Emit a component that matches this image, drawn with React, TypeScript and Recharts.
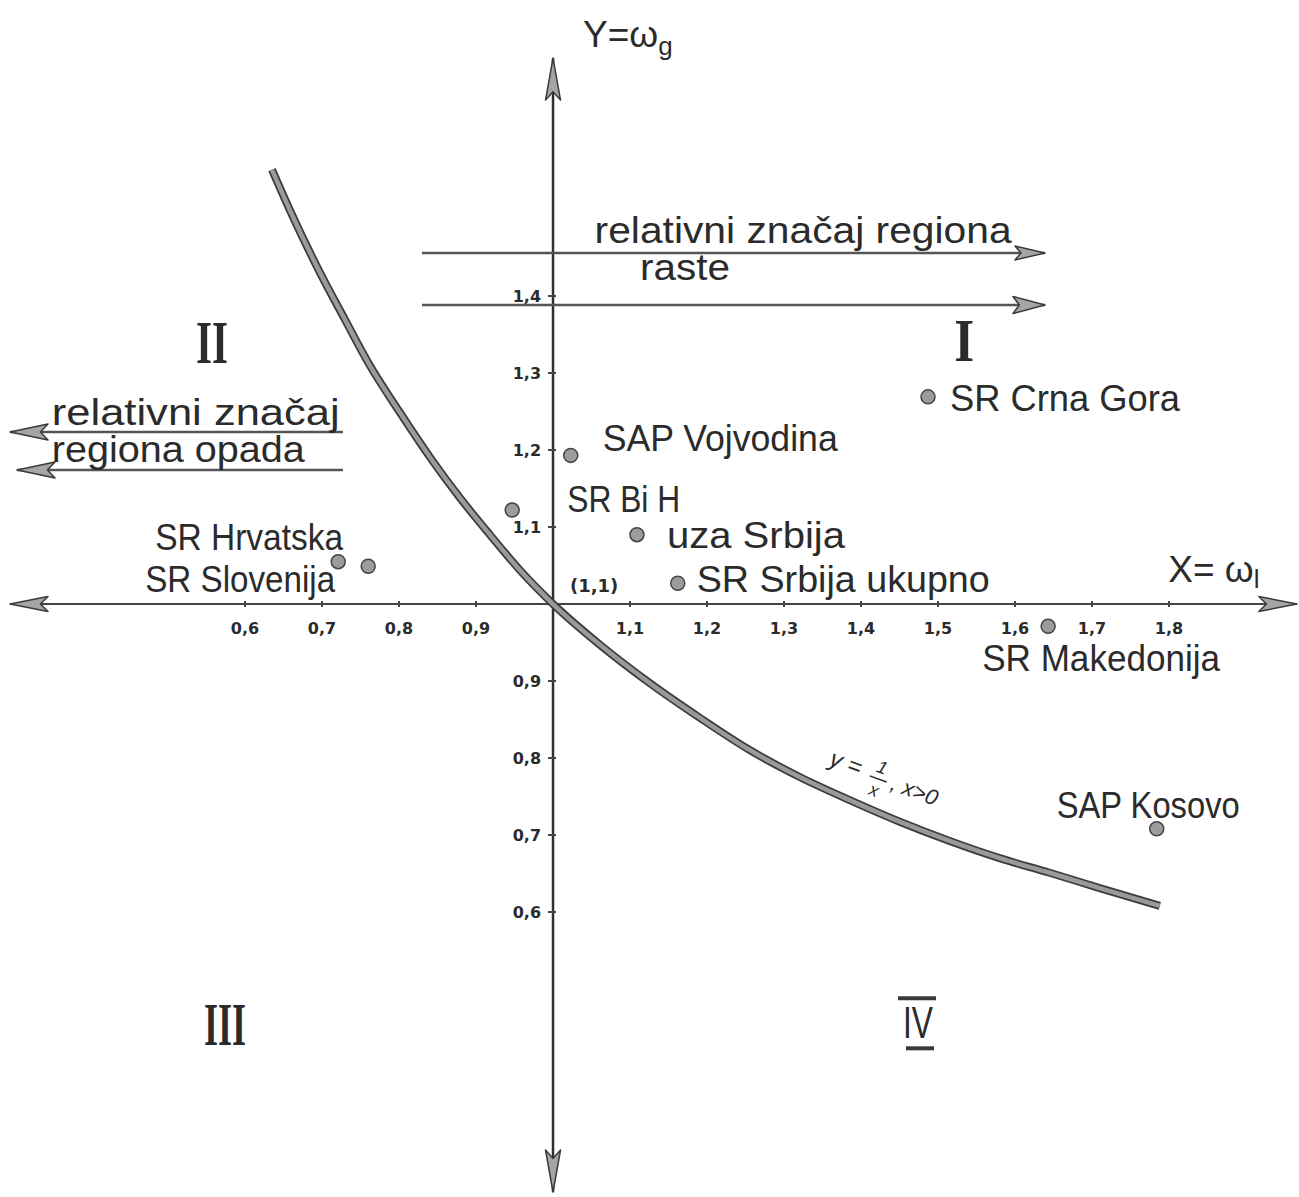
import React from "react";
import {
  ComposedChart,
  XAxis,
  YAxis,
  Line,
  Scatter,
  ReferenceLine,
  ReferenceDot,
} from "recharts";

// regions (x = omega_l, y = omega_g)
const regionNames = [
  "SR Crna Gora",
  "SAP Vojvodina",
  "SR Bi H",
  "uza Srbija",
  "SR Srbija ukupno",
  "SR Hrvatska",
  "SR Slovenija",
  "SR Makedonija",
  "SAP Kosovo",
];
const regionX = [1.487, 1.023, 0.947, 1.109, 1.162, 0.721, 0.76, 1.643, 1.784];
const regionY = [1.269, 1.193, 1.122, 1.09, 1.027, 1.055, 1.049, 0.971, 0.708];

// hand drawn y = 1/x curve
const curveX = [
  0.635, 0.658, 0.697, 0.73, 0.762, 0.801, 0.84, 0.879, 0.918, 0.957, 1.0,
  1.061, 1.126, 1.191, 1.256, 1.321, 1.386, 1.451, 1.516, 1.58, 1.645, 1.71, 1.788,
];
const curveY = [
  1.564, 1.512, 1.431, 1.369, 1.31, 1.249, 1.191, 1.138, 1.09, 1.044, 1.0,
  0.947, 0.897, 0.852, 0.81, 0.775, 0.745, 0.717, 0.692, 0.67, 0.651, 0.631, 0.608,
];

const xTickValues = [0.6, 0.7, 0.8, 0.9, 1.1, 1.2, 1.3, 1.4, 1.5, 1.6, 1.7, 1.8];
const yTickValues = [0.6, 0.7, 0.8, 0.9, 1.1, 1.2, 1.3, 1.4];

const regionData = regionNames.map((name, i) => ({ name, x: regionX[i], y: regionY[i] }));
const curveData = curveX.map((x, i) => ({ x, y: curveY[i] }));
const xTickData = xTickValues.map((v) => ({ x: v, y: 1 }));
const yTickData = yTickValues.map((v) => ({ x: 1, y: v }));

const W = 1299;
const H = 1197;
const INK = "#2b2b2b";
const LETTER = "'Liberation Sans', Arial, sans-serif";
const ROMAN = "'Liberation Serif', 'DejaVu Serif', serif";
const TICKFONT = "'DejaVu Sans', sans-serif";

// label placement next to each point: offset of text start / baseline, text width
const labelPlace: Record<string, { dx: number; dy: number; w: number; anchor?: string }> = {
  "SR Crna Gora": { dx: 22, dy: 14, w: 230 },
  "SAP Vojvodina": { dx: 32, dy: -4, w: 235 },
  "SR Bi H": { dx: 55, dy: 2, w: 113 },
  "uza Srbija": { dx: 30, dy: 13, w: 178 },
  "SR Srbija ukupno": { dx: 19, dy: 9, w: 293 },
  "SR Hrvatska": { dx: 5, dy: -12, w: 188, anchor: "end" },
  "SR Slovenija": { dx: -33, dy: 26, w: 190, anchor: "end" },
  "SR Makedonija": { dx: -66, dy: 45, w: 238 },
  "SAP Kosovo": { dx: -100, dy: -11, w: 183 },
};

const fmt = (v: number) => v.toFixed(1).replace(".", ",");

function RegionMark(p: any) {
  const { cx, cy, payload } = p;
  const pl = labelPlace[payload.name];
  return (
    <g>
      <circle cx={cx} cy={cy} r={7} fill="#9c9c9c" stroke="#444" strokeWidth={1.5} />
      <text
        x={cx + pl.dx}
        y={cy + pl.dy}
        textAnchor={pl.anchor || "start"}
        fontFamily={LETTER}
        fontSize={37}
        fill={INK}
        textLength={pl.w}
        lengthAdjust="spacingAndGlyphs"
      >
        {payload.name}
      </text>
    </g>
  );
}

function XTick(p: any) {
  const { cx, cy, payload } = p;
  return (
    <g>
      <line x1={cx} y1={cy - 3} x2={cx} y2={cy + 3} stroke="#444" strokeWidth={2} />
      <text x={cx} y={cy + 30} textAnchor="middle" fontFamily={TICKFONT} fontWeight="bold" fontSize={16} fill={INK}>
        {fmt(payload.x)}
      </text>
    </g>
  );
}

function YTick(p: any) {
  const { cx, cy, payload } = p;
  return (
    <g>
      <line x1={cx - 5} y1={cy} x2={cx + 3} y2={cy} stroke="#444" strokeWidth={2} />
      <text x={cx - 12} y={cy + 6} textAnchor="end" fontFamily={TICKFONT} fontWeight="bold" fontSize={16} fill={INK}>
        {fmt(payload.y)}
      </text>
    </g>
  );
}

function makeArrow(both: boolean, len: number, w: number, color: string, sw: number) {
  return (p: any) => {
    const { x1, y1, x2, y2 } = p;
    const d = Math.hypot(x2 - x1, y2 - y1) || 1;
    const ux = (x2 - x1) / d;
    const uy = (y2 - y1) / d;
    const head = (tx: number, ty: number, sx: number, sy: number) => {
      const bx = tx - sx * len;
      const by = ty - sy * len;
      const mx = tx - sx * len * 0.8;
      const my = ty - sy * len * 0.8;
      const nx = -sy;
      const ny = sx;
      return `${tx},${ty} ${bx + (nx * w) / 2},${by + (ny * w) / 2} ${mx},${my} ${bx - (nx * w) / 2},${by - (ny * w) / 2}`;
    };
    return (
      <g>
        <line x1={x1} y1={y1} x2={x2} y2={y2} stroke={color} strokeWidth={sw} />
        <polygon points={head(x2, y2, ux, uy)} fill="#a5a5a5" stroke="#3a3a3a" strokeWidth={1.5} strokeLinejoin="round" />
        {both && (
          <polygon points={head(x1, y1, -ux, -uy)} fill="#a5a5a5" stroke="#3a3a3a" strokeWidth={1.5} strokeLinejoin="round" />
        )}
      </g>
    );
  };
}

// free text annotations, placed in data coordinates
const textAt = (content: React.ReactNode) => (p: any) => <g transform={`translate(${p.cx},${p.cy})`}>{content}</g>;

const plain = (s: string, w: number, size = 37) => (
  <text x={0} y={0} fontFamily={LETTER} fontSize={size} fill={INK} textLength={w} lengthAdjust="spacingAndGlyphs">
    {s}
  </text>
);

const roman = (s: string, w: number) => (
  <text x={0} y={0} textAnchor="middle" fontFamily={ROMAN} fontWeight="bold" fontSize={62} fill={INK} textLength={w} lengthAdjust="spacingAndGlyphs">
    {s}
  </text>
);

export default function App() {
  return (
    <div style={{ position: "absolute", left: 0, top: 0, width: W, height: H, background: "#fff" }}>
      <ComposedChart width={W} height={H} margin={{ top: 0, right: 0, bottom: 0, left: 0 }}>
        <XAxis type="number" dataKey="x" domain={[0.2818, 1.9688]} allowDataOverflow hide />
        <YAxis type="number" dataKey="y" domain={[0.2299, 1.7844]} allowDataOverflow hide />

        {/* axes with arrow heads */}
        <ReferenceLine
          segment={[{ x: 0.2948, y: 1 }, { x: 1.966, y: 1 }]}
          ifOverflow="visible"
          shape={makeArrow(true, 38, 15, "#444", 2)}
        />
        <ReferenceLine
          segment={[{ x: 1, y: 0.2364 }, { x: 1, y: 1.709 }]}
          ifOverflow="visible"
          shape={makeArrow(true, 42, 15, "#3a2a2a", 2.5)}
        />

        {/* direction arrows */}
        <ReferenceLine segment={[{ x: 0.8298, y: 1.4558 }, { x: 1.6389, y: 1.4558 }]} ifOverflow="visible" shape={makeArrow(false, 30, 14, "#555", 2.5)} />
        <ReferenceLine segment={[{ x: 0.8298, y: 1.3883 }, { x: 1.6389, y: 1.3883 }]} ifOverflow="visible" shape={makeArrow(false, 32, 17, "#555", 2.5)} />
        <ReferenceLine segment={[{ x: 0.7272, y: 1.2234 }, { x: 0.2948, y: 1.2234 }]} ifOverflow="visible" shape={makeArrow(false, 38, 16, "#555", 2.5)} />
        <ReferenceLine segment={[{ x: 0.7272, y: 1.174 }, { x: 0.3039, y: 1.174 }]} ifOverflow="visible" shape={makeArrow(false, 38, 16, "#555", 2.5)} />

        <Line data={curveData} dataKey="y" type="monotone" dot={false} stroke="#3c3c3c" strokeWidth={8} isAnimationActive={false} />
        <Line data={curveData} dataKey="y" type="monotone" dot={false} stroke="#9a9a9a" strokeWidth={4.5} isAnimationActive={false} />

        <Scatter data={xTickData} dataKey="y" shape={XTick} isAnimationActive={false} />
        <Scatter data={yTickData} dataKey="y" shape={YTick} isAnimationActive={false} />

        <Scatter data={regionData} dataKey="y" shape={RegionMark} isAnimationActive={false} />

        <ReferenceDot x={1.054} y={1.469} r={0} ifOverflow="visible" shape={textAt(plain("relativni značaj regiona", 417))} />
        <ReferenceDot x={1.113} y={1.421} r={0} ifOverflow="visible" shape={textAt(plain("raste", 90))} />
        <ReferenceDot x={0.349} y={1.232} r={0} ifOverflow="visible" shape={textAt(plain("relativni značaj", 288))} />
        <ReferenceDot x={0.349} y={1.184} r={0} ifOverflow="visible" shape={textAt(plain("regiona opada", 253))} />

        <ReferenceDot
          x={1.039}
          y={1.723}
          r={0}
          ifOverflow="visible"
          shape={textAt(
            <text x={0} y={0} fontFamily={LETTER} fontSize={37} fill={INK}>
              Y=ω<tspan fontSize={26} dy={8}>g</tspan>
            </text>
          )}
        />
        <ReferenceDot
          x={1.799}
          y={1.028}
          r={0}
          ifOverflow="visible"
          shape={textAt(
            <text x={0} y={0} fontFamily={LETTER} fontSize={37} fill={INK}>
              X= ω<tspan fontSize={26} dy={6}>l</tspan>
            </text>
          )}
        />
        <ReferenceDot
          x={1.022}
          y={1.016}
          r={0}
          ifOverflow="visible"
          shape={textAt(
            <text x={0} y={0} fontFamily={TICKFONT} fontWeight="bold" fontSize={18} fill={INK}>
              (1,1)
            </text>
          )}
        />

        <ReferenceDot x={0.557} y={1.313} r={0} ifOverflow="visible" shape={textAt(roman("II", 32))} />
        <ReferenceDot x={1.534} y={1.316} r={0} ifOverflow="visible" shape={textAt(roman("I", 20))} />
        <ReferenceDot x={0.574} y={0.427} r={0} ifOverflow="visible" shape={textAt(roman("III", 42))} />
        <ReferenceDot
          x={1.474}
          y={0.436}
          r={0}
          ifOverflow="visible"
          shape={textAt(
            <g>
              <line x1={-20} y1={-40} x2={18} y2={-40} stroke="#3a3a3a" strokeWidth={4} />
              <text x={0} y={0} textAnchor="middle" fontFamily={LETTER} fontSize={44} fill={INK} textLength={30} lengthAdjust="spacingAndGlyphs">
                IV
              </text>
              <line x1={-12} y1={10} x2={16} y2={10} stroke="#3a3a3a" strokeWidth={4} />
            </g>
          )}
        />

        <ReferenceDot
          x={1.357}
          y={0.791}
          r={0}
          ifOverflow="visible"
          shape={textAt(
            <g transform="rotate(20)" fontFamily={LETTER} fontStyle="italic" fill={INK}>
              <text x={0} y={0} fontSize={24}>y =</text>
              <text x={52} y={-10} fontSize={18} textAnchor="middle">1</text>
              <line x1={43} y1={-4} x2={61} y2={-4} stroke={INK} strokeWidth={1.5} />
              <text x={52} y={14} fontSize={18} textAnchor="middle">x</text>
              <text x={66} y={2} fontSize={22}>, x&gt;0</text>
            </g>
          )}
        />
      </ComposedChart>
    </div>
  );
}
